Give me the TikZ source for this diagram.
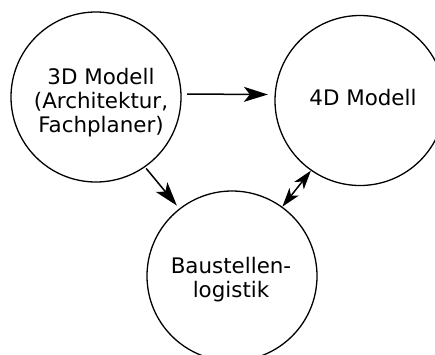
\documentclass[tikz,border=0pt]{standalone}
\usepackage{fontspec}
\setmainfont{DejaVu Sans}
\usetikzlibrary{arrows.meta}

\tikzset{
  stage/.style={circle, draw, line width=1.3pt, minimum size=170pt, inner sep=0pt},
  caption/.style={align=center, font=\fontsize{21.4}{24}\selectfont, inner sep=0pt},
  flow/.style={line width=1.5pt, -{Stealth[length=24pt,width=15pt,inset=6pt]}},
  mutual/.style={line width=1.5pt, {Stealth[length=19pt,width=12pt,inset=5pt]}-{Stealth[length=19pt,width=12pt,inset=5pt]}}
}

\begin{document}
\begin{tikzpicture}[x=1pt,y=-1pt]
  \useasboundingbox (0,0) rectangle (435,354);
  \clip (0,0) rectangle (435,354);
  \fill[white] (0,0) rectangle (435,354);

  % the three stages
  \node[stage] (A) at (96,97) {};
  \node[stage] (B) at (360,100.5) {};
  \node[stage] (C) at (232,276) {};

  \node[caption] (tA) at (101,103) {3D Modell\\(Architektur,\\Fachplaner)};
  \node[caption] (tB) at (363,98) {4D Modell};
  \node[caption] (tC) at (231,280) {Baustellen-\\logistik};

  % relations between stages
  \draw[flow, shorten <=5.6pt, shorten >=6.7pt] (A.2) -- (B.176);
  \draw[flow, shorten <=1.6pt, shorten >=3.8pt] (A.-55.8) -- (C.128.9);
  \draw[mutual] (C.54) -- (B.235);
\end{tikzpicture}
\end{document}
